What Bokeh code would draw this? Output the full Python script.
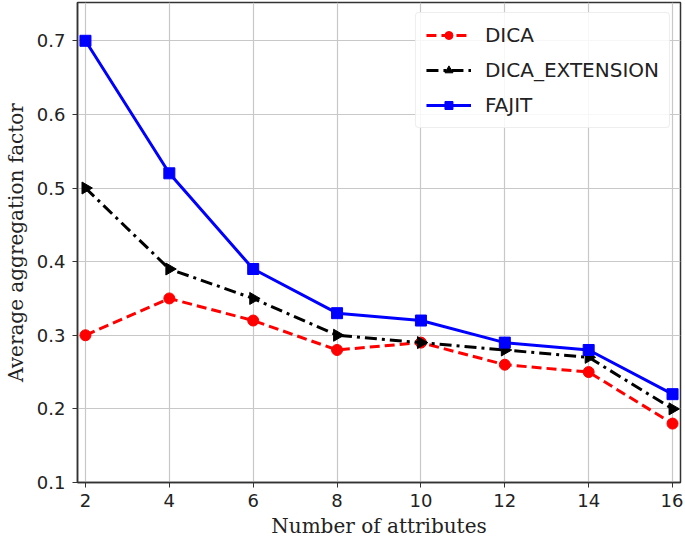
import math
from bokeh.plotting import figure
from bokeh.models import Range1d, FixedTicker, Legend, LegendItem
from bokeh.embed import file_html
from bokeh.resources import INLINE

attributes = [2, 4, 6, 8, 10, 12, 14, 16]
dica = [0.30, 0.35, 0.32, 0.28, 0.29, 0.26, 0.25, 0.18]
dica_ext = [0.50, 0.39, 0.35, 0.30, 0.29, 0.28, 0.27, 0.20]
fajit = [0.70, 0.52, 0.39, 0.33, 0.32, 0.29, 0.28, 0.22]
x_ticks = [2, 4, 6, 8, 10, 12, 14, 16]
y_ticks = [0.1, 0.2, 0.3, 0.4, 0.5, 0.6, 0.7]

p = figure(width=683, height=540, output_backend="svg", toolbar_location=None,
           x_range=Range1d(1.81, 16.19), y_range=Range1d(0.1, 0.752),
           min_border_left=77, min_border_right=3, min_border_top=2, min_border_bottom=58)

p.background_fill_color = "white"
p.border_fill_color = "white"
p.outline_line_color = "#333333"
p.outline_line_width = 1.5

for ax in (p.xaxis[0], p.yaxis[0]):
    ax.major_label_text_font = "DejaVu Sans"
    ax.major_label_text_font_size = "18px"
    ax.major_label_text_color = "#222222"
    ax.axis_label_text_font = "DejaVu Serif"
    ax.axis_label_text_font_size = "20px"
    ax.axis_label_text_font_style = "normal"
    ax.axis_label_text_color = "#222222"
    ax.axis_line_color = "#333333"
    ax.axis_line_width = 1.5
    ax.major_tick_line_color = "#333333"
    ax.major_tick_out = 5
    ax.major_tick_in = 0
    ax.minor_tick_line_color = None

p.xaxis.ticker = FixedTicker(ticks=x_ticks)
p.yaxis.ticker = FixedTicker(ticks=y_ticks)
p.xaxis.axis_label = "Number of attributes"
p.yaxis.axis_label = "Average aggregation factor"
p.xaxis.major_label_standoff = 6
p.yaxis.major_label_standoff = 7
p.xaxis.axis_label_standoff = 4
p.yaxis.axis_label_standoff = 6

p.xgrid.grid_line_color = "#c8c8c8"
p.ygrid.grid_line_color = "#c8c8c8"
p.xgrid.grid_line_width = 1.2
p.ygrid.grid_line_width = 1.2

l1 = p.line(attributes, dica, line_color="red", line_width=3, line_dash="10 5")
m1 = p.scatter(attributes, dica, marker="circle", size=11, fill_color="red", line_color="red")

l2 = p.line(attributes, dica_ext, line_color="black", line_width=3, line_dash="12 5 3 5")
m2 = p.scatter(attributes, dica_ext, marker="triangle", angle=-math.pi / 2, size=12,
               fill_color="black", line_color="black")

l3 = p.line(attributes, fajit, line_color="blue", line_width=3)
m3 = p.scatter(attributes, fajit, marker="square", size=11, fill_color="blue", line_color="blue")

legend = Legend(items=[
    LegendItem(label="DICA", renderers=[l1, m1]),
    LegendItem(label="DICA_EXTENSION", renderers=[l2, m2]),
    LegendItem(label="FAJIT", renderers=[l3, m3]),
], location="top_right")
legend.label_text_font = "DejaVu Sans"
legend.label_text_font_size = "20px"
legend.label_text_color = "#222222"
legend.border_line_color = "#dddddd"
legend.border_line_width = 1
legend.border_radius = 4
legend.background_fill_alpha = 0.85
legend.glyph_width = 45
legend.glyph_height = 20
legend.label_standoff = 14
legend.spacing = 11
legend.padding = 10
legend.margin = 10
p.add_layout(legend)

open("out.html", "w").write(file_html(p, INLINE))
